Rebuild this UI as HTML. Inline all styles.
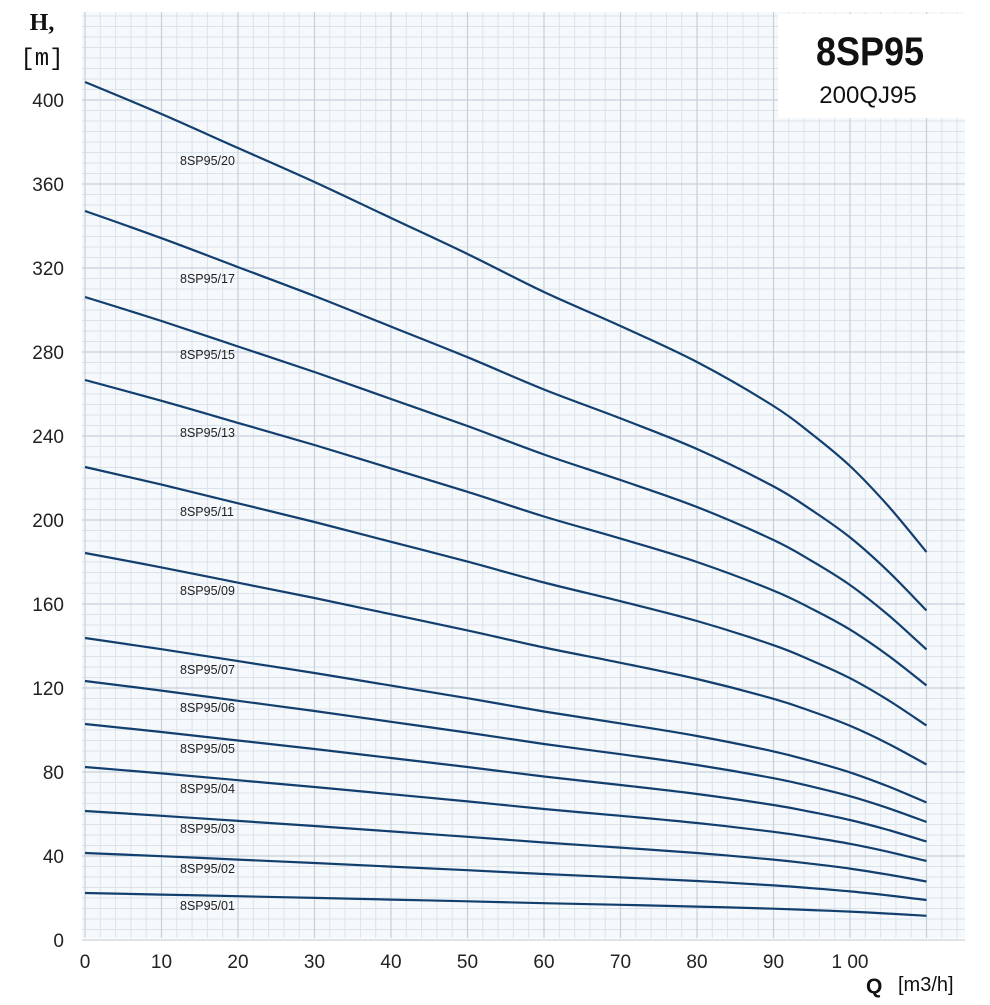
<!DOCTYPE html>
<html><head><meta charset="utf-8"><style>
body{margin:0;background:#fff;width:990px;height:1000px;overflow:hidden;font-family:"Liberation Sans",sans-serif}
</style></head><body>
<svg id="s" width="990" height="1000" xmlns="http://www.w3.org/2000/svg">
<rect x="82" y="12" width="883" height="926" fill="#f6f9fc"/>
<g id="grid"></g>
<rect x="778" y="14" width="188" height="104" fill="#fff"/>
<text x="870" y="65" font-size="40" font-weight="bold" text-anchor="middle" fill="#111" transform="translate(870,0) scale(0.9,1) translate(-870,0)">8SP95</text>
<text x="868" y="103" font-size="24" text-anchor="middle" fill="#111">200QJ95</text>
<text x="42" y="30" font-size="24" font-weight="bold" text-anchor="middle" font-family="Liberation Serif,serif" fill="#111">H,</text>
<text x="42" y="65" font-size="24" text-anchor="middle" font-family="Liberation Mono,monospace" fill="#111">[m]</text>
<g id="yl" font-size="19" fill="#222" text-anchor="end"></g>
<g id="xl" font-size="19" fill="#222" text-anchor="middle"></g>
<text x="866" y="993" font-size="21" font-weight="bold" fill="#111">Q</text>
<text x="898" y="991" font-size="20" fill="#111">[m3/h]</text>
<g id="cv" fill="none" stroke="#123f6e" stroke-width="2.2"></g>
<g id="lb" font-size="12.5" fill="#222"></g>
</svg>
<script>
var NS="http://www.w3.org/2000/svg";
function el(p,t,a,txt){var e=document.createElementNS(NS,t);for(var k in a)e.setAttribute(k,a[k]);if(txt!=null)e.textContent=txt;document.getElementById(p).appendChild(e);return e;}
for(var x=85;x<=965;x+=15.3){el("grid","line",{x1:x,y1:12,x2:x,y2:938,stroke:"#dbe3ea","stroke-width":1});}
for(var y=940;y>=12;y-=10.5){el("grid","line",{x1:82,y1:y,x2:965,y2:y,stroke:"#dbe3ea","stroke-width":1});}
for(var i=0;i<=11;i++){var x=85+i*76.5;el("grid","line",{x1:x,y1:12,x2:x,y2:938,stroke:"#c6d0d9","stroke-width":1.2});}
for(var i=0;i<=10;i++){var y=940-i*84;el("grid","line",{x1:82,y1:y,x2:965,y2:y,stroke:"#c6d0d9","stroke-width":1.2});
 el("yl","text",{x:64,y:y+7},String(i*40));}
var xl=["0","10","20","30","40","50","60","70","80","90","1 00"];
for(var i=0;i<=10;i++){el("xl","text",{x:85+i*76.5,y:968},xl[i]);}
var Q=[0,10,20,30,40,50,60,70,80,90,95,100,105,110];
var F=[0,1.6,3.3,5.0,6.8,8.6,10.5,12.2,14.0,16.2,17.6,19.2,21.2,23.5];
var C=[[20,82],[17,211],[15,297],[13,380],[11,467],[9,553],[7,638],[6,681],[5,724],[4,767],[3,811],[2,853],[1,893]];
var L=[["20",165],["17",283],["15",359],["13",437],["11",516],["09",595],["07",674],["06",712],["05",753],["04",793],["03",833],["02",873],["01",910]];
C.forEach(function(c){var P=[];for(var j=0;j<Q.length;j++){P.push([85+Q[j]*7.65,c[1]+F[j]*c[0]*(c[0]==1?0.97:1)]);}
 var d="M"+P[0][0].toFixed(1)+","+P[0][1].toFixed(1);
 for(var j=0;j<P.length-1;j++){var p0=P[Math.max(j-1,0)],p1=P[j],p2=P[j+1],p3=P[Math.min(j+2,P.length-1)];
  var c1x=p1[0]+(p2[0]-p0[0])/6,c1y=p1[1]+(p2[1]-p0[1])/6,c2x=p2[0]-(p3[0]-p1[0])/6,c2y=p2[1]-(p3[1]-p1[1])/6;
  d+="C"+c1x.toFixed(1)+","+c1y.toFixed(1)+" "+c2x.toFixed(1)+","+c2y.toFixed(1)+" "+p2[0].toFixed(1)+","+p2[1].toFixed(1);}
 el("cv","path",{d:d});});
L.forEach(function(l){el("lb","text",{x:180,y:l[1]},"8SP95/"+l[0]);});
</script>
</body></html>
